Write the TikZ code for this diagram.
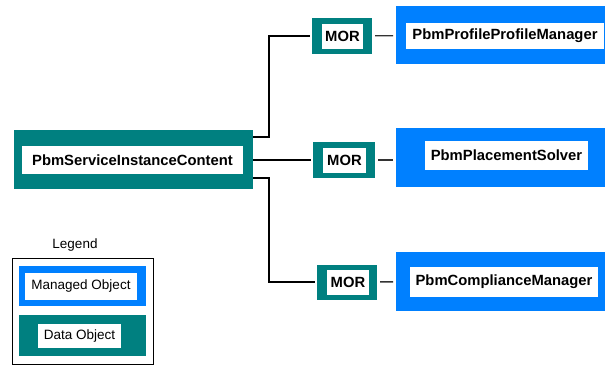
\documentclass[tikz,border=0pt]{standalone}
\usepackage{fontspec}
\setmainfont{Liberation Sans}
\definecolor{tealbox}{RGB}{0,128,128}
\definecolor{bluebox}{RGB}{0,128,255}
\tikzset{
  outerbox/.style={rectangle, inner sep=0pt, outer sep=0pt},
  datafill/.style={outerbox, fill=tealbox},
  mgdfill/.style={outerbox, fill=bluebox},
  inbox/.style={rectangle, fill=white, inner sep=0pt, outer sep=0pt},
  btxt/.style={font=\fontsize{14.8}{17}\selectfont\bfseries},
  rtxt/.style={font=\fontsize{13.5}{16}\selectfont},
  conn/.style={draw=black, line width=1.1pt},
  link/.style={draw=black!80, line width=1.3pt, shorten <=3pt, shorten >=3pt}
}
\begin{document}
\begin{tikzpicture}[x=1pt,y=-1pt]
\useasboundingbox (0,0) rectangle (605,365);
% main data object
\node[datafill, minimum width=239pt, minimum height=59pt] (sic) at (133.5,159.5) {};
\node[inbox, btxt, minimum width=221pt, minimum height=28pt] (sict) at (132.5,160) {PbmServiceInstanceContent};
% row 1
\node[datafill, minimum width=60pt, minimum height=36pt] (mor1) at (342,36) {};
\node[inbox, btxt, minimum width=41pt, minimum height=25pt] (mor1t) at (342.5,36.5) {MOR};
\node[mgdfill, minimum width=210pt, minimum height=58pt] (ppm) at (501,35) {};
\node[inbox, btxt, minimum width=198pt, minimum height=26pt] (ppmt) at (505,36) {PbmProfileProfileManager};
% row 2
\node[datafill, minimum width=62pt, minimum height=36pt] (mor2) at (344,160) {};
\node[inbox, btxt, minimum width=43pt, minimum height=25pt] (mor2t) at (344.5,160.5) {MOR};
\node[mgdfill, minimum width=210pt, minimum height=59pt] (pps) at (501,157.5) {};
\node[inbox, btxt, minimum width=163pt, minimum height=29pt] (ppst) at (506.5,155.5) {PbmPlacementSolver};
% row 3
\node[datafill, minimum width=60pt, minimum height=35pt] (mor3) at (347,282) {};
\node[inbox, btxt, minimum width=42pt, minimum height=25pt] (mor3t) at (348,282) {MOR};
\node[mgdfill, minimum width=210pt, minimum height=59pt] (pcm) at (501,281.5) {};
\node[inbox, btxt, minimum width=188pt, minimum height=30pt] (pcmt) at (504,282) {PbmComplianceManager};
% connectors
\draw[conn] ([yshift=22.5pt]sic.east) -- ++(16,0) |- ([xshift=-2pt]mor1.west);
\draw[conn] (sic.east |- mor2.west) -- ([xshift=-2pt]mor2.west);
\draw[conn] ([yshift=-18.5pt]sic.east) -- ++(16,0) |- ([xshift=-2pt]mor3.west);
\draw[link] (mor1) -- (ppm);
\draw[link] (mor2.east) -- (mor2.east -| pps.west);
\draw[link] (mor3) -- (pcm);
% legend
\node[rtxt] (legt) at (75,245) {Legend};
\node[outerbox, draw=black, line width=1pt, minimum width=141pt, minimum height=106pt] (leg) at (82.5,311) {};
\node[mgdfill, minimum width=127pt, minimum height=40pt] (lmo) at (82.5,286) {};
\node[inbox, rtxt, minimum width=112pt, minimum height=27pt] (lmot) at (81,286.5) {Managed Object};
\node[datafill, minimum width=127pt, minimum height=41pt] (ldo) at (82.5,335.5) {};
\node[inbox, rtxt, minimum width=83pt, minimum height=24pt] (ldot) at (79.5,336) {Data Object};
\end{tikzpicture}
\end{document}
